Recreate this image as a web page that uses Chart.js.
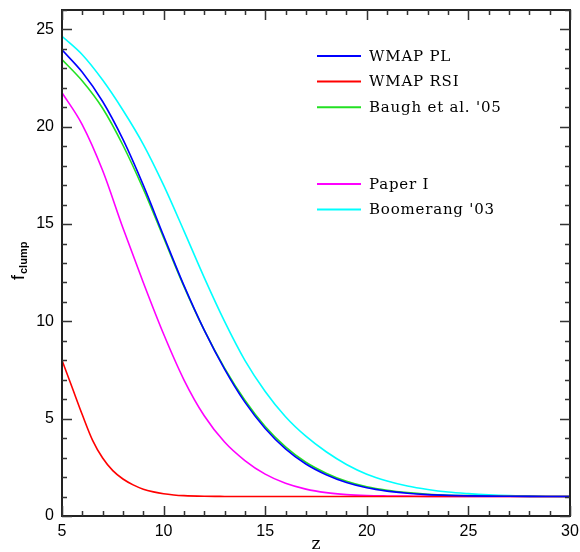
<!DOCTYPE html>
<html>
<head>
<meta charset="utf-8">
<script src="https://cdn.jsdelivr.net/npm/chart.js@4/dist/chart.umd.min.js"></script>
<style>
  html, body { margin: 0; padding: 0; background: #fff; }
  #wrap { width: 580px; height: 552px; }
</style>
</head>
<body>
<div id="wrap"><canvas id="c" width="580" height="552"></canvas></div>
<script>
// ---- data ----
const zMain = [5,6,7,8,9,10,11,12,13,14,15,16,17,18,19,20,21,22,23,24,25,26,27,28,29,30];
const wmapPL    = [23.95,22.8,21.3,19.35,17.0,14.4,11.85,9.55,7.55,5.85,4.5,3.45,2.67,2.12,1.72,1.45,1.28,1.17,1.1,1.06,1.035,1.02,1.012,1.006,1.003,1.0];
const baugh05   = [23.45,22.35,20.95,19.05,16.8,14.3,11.8,9.55,7.6,5.95,4.6,3.55,2.76,2.2,1.78,1.5,1.32,1.2,1.12,1.07,1.045,1.028,1.017,1.009,1.004,1.0];
const boomerang = [24.65,23.7,22.4,20.85,19.1,17.0,14.65,12.25,10.0,8.0,6.4,5.1,4.1,3.3,2.65,2.15,1.8,1.54,1.36,1.23,1.15,1.09,1.05,1.03,1.015,1.01];
const paperI    = [21.75,20.1,17.75,14.8,12.0,9.35,7.0,5.15,3.8,2.85,2.15,1.68,1.38,1.2,1.1,1.05,1.03,1.02,1.01,1.005,1.0,1.0,1.0,1.0,1.0,1.0];
const zRed      = [5,5.5,6,6.5,7,7.5,8,8.5,9,9.5,10,10.5,11,12,13,14,15,20,25,30];
const wmapRSI   = [8.0,6.6,5.2,3.9,2.98,2.33,1.9,1.6,1.38,1.24,1.14,1.08,1.045,1.015,1.005,1.0,1.0,1.0,1.0,1.0];

const seriesLabels = ["WMAP PL","WMAP RSI","Baugh et al. '05","Paper I","Boomerang '03"];
const seriesColors = ["#0000ff","#ff0000","#22e022","#ff00ff","#00ffff"];
const xTickLabels = [5,10,15,20,25,30];
const yTickLabels = [0,5,10,15,20,25];
const xRange = [5,30];
const yRange = [0,26];

function pts(xs, ys) { return xs.map((x,i) => ({x:x, y:ys[i]})); }

const datasets = [
  {label: seriesLabels[0], data: pts(zMain, wmapPL)},
  {label: seriesLabels[1], data: pts(zRed, wmapRSI)},
  {label: seriesLabels[2], data: pts(zMain, baugh05)},
  {label: seriesLabels[3], data: pts(zMain, paperI)},
  {label: seriesLabels[4], data: pts(zMain, boomerang)}
].map((d,i) => Object.assign(d, {
  borderColor: seriesColors[i], backgroundColor: seriesColors[i],
  borderWidth: 1.6, pointRadius: 0, fill: false,
  cubicInterpolationMode: 'monotone'
}));

function zeroPad(s) { s.paddingTop = 0; s.paddingBottom = 0; s.paddingLeft = 0; s.paddingRight = 0; }

const frameAndLegend = {
  id: 'frameAndLegend',
  afterDraw(chart) {
    const ctx = chart.ctx;
    const a = chart.chartArea;
    const xs = chart.scales.x, ys = chart.scales.y;
    ctx.save();
    ctx.strokeStyle = '#222';
    ctx.lineWidth = 2;
    ctx.strokeRect(a.left, a.top, a.right - a.left, a.bottom - a.top);
    ctx.lineWidth = 1.5;
    ctx.strokeStyle = '#333';
    ctx.beginPath();
    for (let v = xRange[0]; v <= xRange[1]; v++) {
      const px = Math.round(xs.getPixelForValue(v)) + 0.5;
      const len = v % 5 === 0 ? 10 : 5;
      ctx.moveTo(px, a.bottom); ctx.lineTo(px, a.bottom - len);
      ctx.moveTo(px, a.top); ctx.lineTo(px, a.top + len);
    }
    for (let v = yRange[0]; v <= yRange[1]; v++) {
      const py = Math.round(ys.getPixelForValue(v)) + 0.5;
      const len = v % 5 === 0 ? 10 : 5;
      ctx.moveTo(a.left, py); ctx.lineTo(a.left + len, py);
      ctx.moveTo(a.right, py); ctx.lineTo(a.right - len, py);
    }
    ctx.stroke();

    // axis titles
    ctx.fillStyle = '#000';
    ctx.font = '17px "DejaVu Serif"';
    ctx.textAlign = 'center';
    ctx.textBaseline = 'alphabetic';
    ctx.fillText('z', (a.left + a.right) / 2, 549);

    ctx.save();
    ctx.translate(24, 280);
    ctx.rotate(-Math.PI / 2);
    ctx.textAlign = 'left';
    ctx.font = '18px "Liberation Sans"';
    ctx.fillText('f', 0, 0);
    const fw = ctx.measureText('f').width;
    ctx.font = 'bold 11px "Liberation Sans"';
    ctx.fillText('clump', fw + 1, 3);
    ctx.restore();

    // legend
    const rows = [0,1,2,5,6];
    const x0 = 317, x1 = 361, tx = 369, y0 = 56, dy = 25.6;
    ctx.textAlign = 'left';
    ctx.textBaseline = 'middle';
    ctx.font = '15px "DejaVu Serif"';
    try { ctx.letterSpacing = '0.8px'; } catch (e) {}
    chart.data.datasets.forEach((d, i) => {
      const y = y0 + rows[i] * dy;
      ctx.strokeStyle = d.borderColor;
      ctx.lineWidth = 2;
      ctx.beginPath(); ctx.moveTo(x0, y); ctx.lineTo(x1, y); ctx.stroke();
      ctx.fillStyle = '#000';
      ctx.fillText(d.label, tx, y + 1);
    });
    ctx.restore();
  }
};

new Chart(document.getElementById('c'), {
  type: 'line',
  data: { datasets: datasets },
  plugins: [frameAndLegend],
  options: {
    responsive: false,
    animation: false,
    devicePixelRatio: 1,
    layout: { padding: { top: 10, right: 10, left: 0, bottom: 0 } },
    plugins: { legend: { display: false }, tooltip: { enabled: false } },
    scales: {
      x: {
        type: 'linear', min: xRange[0], max: xRange[1],
        grid: { display: false, drawTicks: false },
        border: { display: false },
        afterBuildTicks: s => { s.ticks = xTickLabels.map(v => ({value: v})); },
        afterFit: s => { s.height = 36; zeroPad(s); },
        ticks: { color: '#000', padding: 6, maxRotation: 0, autoSkip: false,
                 font: { family: '"Liberation Sans"', size: 16 } }
      },
      y: {
        type: 'linear', min: yRange[0], max: yRange[1],
        grid: { display: false, drawTicks: false },
        border: { display: false },
        afterBuildTicks: s => { s.ticks = yTickLabels.map(v => ({value: v})); },
        afterFit: s => { s.width = 62; zeroPad(s); },
        ticks: { color: '#000', padding: 8, autoSkip: false,
                 font: { family: '"Liberation Sans"', size: 16 } }
      }
    }
  }
});
</script>
</body>
</html>
